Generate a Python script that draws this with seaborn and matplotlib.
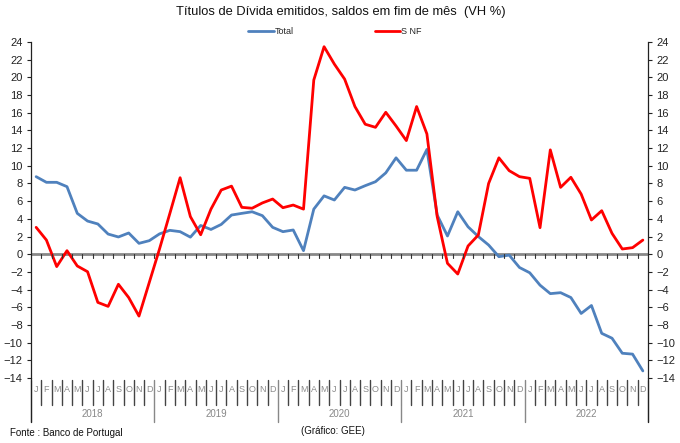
import numpy as np
import pandas as pd
import matplotlib
matplotlib.use("Agg")
import matplotlib.pyplot as plt
import matplotlib.transforms as mtransforms
import seaborn as sns

# monthly data, Jan 2018 - Dec 2022
years = ["2018", "2019", "2020", "2021", "2022"]
month_letters = ["J", "F", "M", "A", "M", "J", "J", "A", "S", "O", "N", "D"]

total = [8.77, 8.13, 8.13, 7.64, 4.62, 3.75, 3.42, 2.28, 1.95, 2.4, 1.23, 1.53,
         2.3, 2.7, 2.55, 1.93, 3.25, 2.8, 3.37, 4.43, 4.62, 4.8, 4.36, 3.04,
         2.55, 2.74, 0.4, 5.1, 6.6, 6.13, 7.56, 7.26, 7.75, 8.2, 9.2, 10.9,
         9.5, 9.5, 11.85, 4.43, 2.06, 4.8, 3.1, 2.0, 1.04, -0.28, -0.1, -1.5,
         -2.1, -3.5, -4.46, -4.35, -4.9, -6.7, -5.8, -8.95, -9.5, -11.2, -11.3, -13.2]

snf = [3.04, 1.6, -1.4, 0.4, -1.33, -1.98, -5.45, -5.9, -3.4, -4.9, -7.0, -3.2,
       0.6, 4.6, 8.65, 4.25, 2.2, 5.1, 7.26, 7.7, 5.3, 5.2, 5.8, 6.24,
       5.26, 5.56, 5.1, 19.7, 23.47, 21.5, 19.8, 16.7, 14.7, 14.35, 16.05, 14.5,
       12.85, 16.7, 13.6, 4.25, -1.03, -2.24, 0.93, 2.17, 8.0, 10.9, 9.45, 8.77,
       8.58, 3.0, 11.8, 7.56, 8.7, 6.8, 3.87, 4.92, 2.36, 0.59, 0.74, 1.6]

n = len(total)
df = pd.DataFrame({"idx": np.arange(n), "Total": total, "S NF": snf})

sns.set_style("white")
plt.rcParams["font.family"] = ["Liberation Sans", "DejaVu Sans"]

fig = plt.figure(figsize=(6.8, 4.43), dpi=100)
ax = fig.add_axes([31 / 680, 1 - 378 / 443, 617 / 680, 336 / 443])

sns.lineplot(data=df, x="idx", y="Total", ax=ax, color="#4F81BD", linewidth=2, label="Total")
sns.lineplot(data=df, x="idx", y="S NF", ax=ax, color="#FF0000", linewidth=2, label="S NF")

ax.set_xlim(-0.5, n - 0.5)
ax.set_ylim(-14, 24)
ax.set_xlabel("")
ax.set_ylabel("")
ax.set_yticks(np.arange(-14, 25, 2))
ax.tick_params(axis="y", which="both", direction="out", length=3, width=0.8,
               labelsize=8, colors="#222222", left=True, right=True,
               labelleft=True, labelright=True, pad=3)
ax.set_xticks([])

for side in ["top", "bottom"]:
    ax.spines[side].set_visible(False)
for side in ["left", "right"]:
    ax.spines[side].set_color("#222222")
    ax.spines[side].set_linewidth(0.9)

# zero line with small ticks at month boundaries
ax.axhline(0, color="#888888", linewidth=2, zorder=1)
trans = mtransforms.blended_transform_factory(ax.transData, ax.transAxes)
zero_frac = 14 / 38
for b in np.arange(0.5, n - 0.5, 1):
    ax.plot([b, b], [zero_frac, zero_frac - 0.012], transform=trans,
            color="#333333", linewidth=0.8, clip_on=False)

# category axis below the plot: months and years
for b in np.arange(-0.5, n + 0.5, 1):
    is_year = (b + 0.5) % 12 == 0
    y_end = -0.131 if is_year else -0.079
    col = "#888888" if is_year else "#444444"
    ax.plot([b, b], [-0.006, y_end], transform=trans, color=col,
            linewidth=1.0, clip_on=False)
for i in range(n):
    ax.text(i, -0.033, month_letters[i % 12], transform=trans, ha="center",
            va="center", fontsize=6.5, color="#8a8a8a")
for k, yr in enumerate(years):
    ax.text(k * 12 + 5.5, -0.107, yr, transform=trans, ha="center",
            va="center", fontsize=7, color="#888888")
# extend the side lines down to the year row
for xb in [-0.5, n - 0.5]:
    ax.plot([xb, xb], [0, -0.131], transform=trans, color="#222222",
            linewidth=0.9, clip_on=False)

ax.get_legend().remove()
handles, labels = ax.get_legend_handles_labels()
fig.legend(handles, labels, loc="center", bbox_to_anchor=(335 / 680, 1 - 32 / 443),
           ncol=2, frameon=False, fontsize=6.5, columnspacing=9, handlelength=2.8,
           handletextpad=0.1)

fig.text(341 / 680, 1 - 12 / 443, "Títulos de Dívida emitidos, saldos em fim de mês  (VH %)",
         ha="center", va="center", fontsize=9.3, color="#111111")
fig.text(10 / 680, 1 - 433 / 443, "Fonte : Banco de Portugal", ha="left", va="center",
         fontsize=7, color="#111111")
fig.text(333 / 680, 1 - 431 / 443, "(Gráfico: GEE)", ha="center", va="center",
         fontsize=7, color="#111111")

fig.savefig("out.png", dpi=100)
